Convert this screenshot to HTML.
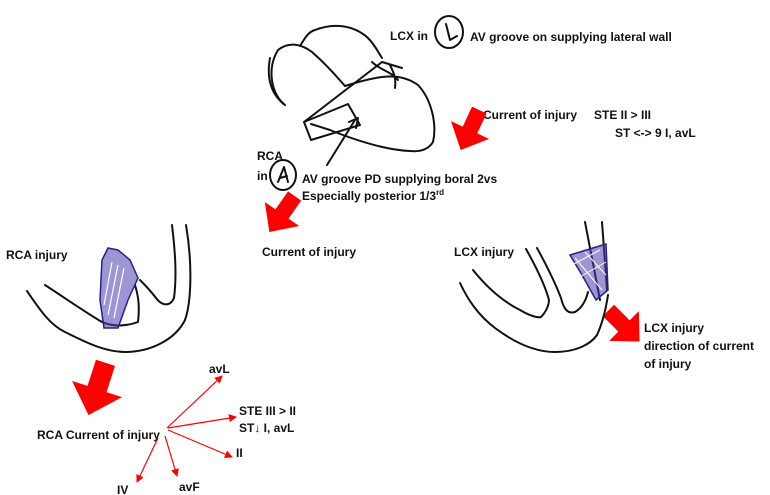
<!DOCTYPE html>
<html><head><meta charset="utf-8"><style>
html,body{margin:0;padding:0;background:#fff;}
svg{display:block;}
text{font-family:"Liberation Sans",sans-serif;font-weight:bold;font-size:12px;fill:#111;}
.k{fill:none;stroke:#111;stroke-width:2;stroke-linecap:round;stroke-linejoin:round;}
.b{fill:#4a3fb0;fill-opacity:.55;stroke:#2a1f8a;stroke-width:1.5;}
.r{stroke:#f00;stroke-width:1.2;fill:none;}
</style></head><body>
<svg width="770" height="495" viewBox="0 0 770 495" xmlns="http://www.w3.org/2000/svg">
<defs>
<marker id="ah" markerWidth="8" markerHeight="8" refX="7" refY="4" orient="auto" markerUnits="userSpaceOnUse"><path d="M0,0 L8,4 L0,8 z" fill="#f00"/></marker>
<polygon id="ba" points="-8,-22 8,-22 8,0 21,0 0,22 -21,0 -8,0" fill="#f00"/>
</defs>

<!-- top heart sketch -->
<path class="k" d="M285,105 C272,95 266,70 278,50 C288,42 300,43 312,52 C328,66 338,78 345,86"/>
<path class="k" d="M300,46 C305,38 308,32 315,30 C335,22 355,26 368,38 C375,45 378,52 382,58"/>
<path class="k" d="M270,58 C266,80 272,95 285,105"/>
<path class="k" d="M304,122 L382,62 L402,68"/>
<path class="k" d="M345,86 C380,75 400,72 418,85 C432,100 437,125 433,142 C428,150 420,152 410,151 C385,150 355,140 330,130 L311,124"/>
<path class="k" d="M304,122 L348,104 L360,125 L311,140 Z"/>
<path class="k" d="M327,165 L355,120 M349,122 L358,118 L356,128"/>
<path class="k" stroke-width="1.3" d="M372,62 C380,70 392,72 398,80 M390,65 C395,75 396,80 395,88"/>
<!-- circles -->
<ellipse class="k" cx="449" cy="32" rx="14" ry="16"/>
<path class="k" stroke-width="1.5" d="M446,24 L450,40 L457,36"/>
<ellipse class="k" cx="283" cy="175" rx="13" ry="15"/>
<path class="k" stroke-width="1.5" d="M278,182 L284,167 L288,182 M280,178 L287,176"/>

<text x="390" y="40">LCX in</text>
<text x="470" y="41">AV groove on supplying lateral wall</text>
<text x="483" y="119">Current of injury</text>
<text x="594" y="119">STE II &gt; III</text>
<text x="615" y="137">ST &lt;-&gt; 9 I, avL</text>
<text x="257" y="160">RCA</text>
<text x="257" y="180">in</text>
<text x="302" y="183">AV groove PD supplying boral 2vs</text>
<text x="302" y="200">Especially posterior 1/3<tspan font-size="8" dy="-5">rd</tspan></text>
<text x="262" y="256">Current of injury</text>
<text x="6" y="259">RCA injury</text>
<text x="454" y="256">LCX injury</text>
<text x="644" y="332">LCX injury</text>
<text x="644" y="350">direction of current</text>
<text x="644" y="368">of injury</text>
<text x="37" y="439">RCA Current of injury</text>
<text x="209" y="373">avL</text>
<text x="239" y="415">STE III &gt; II</text>
<text x="239" y="432">ST↓ I, avL</text>
<text x="236" y="457">II</text>
<text x="179" y="491">avF</text>
<text x="117" y="494">IV</text>

<!-- red block arrows -->
<use href="#ba" transform="translate(470,130) rotate(25)"/>
<use href="#ba" transform="translate(282,214) rotate(35)"/>
<use href="#ba" transform="translate(97,389) rotate(18) scale(1.25)"/>
<use href="#ba" transform="translate(624,326) rotate(-45)"/>

<!-- red lead lines -->
<line class="r" x1="167" y1="428" x2="222" y2="376" marker-end="url(#ah)"/>
<line class="r" x1="168" y1="428" x2="236" y2="417" marker-end="url(#ah)"/>
<line class="r" x1="168" y1="430" x2="232" y2="457" marker-end="url(#ah)"/>
<line class="r" x1="165" y1="436" x2="177" y2="476" marker-end="url(#ah)"/>
<line class="r" x1="158" y1="438" x2="137" y2="482" marker-end="url(#ah)"/>

<!-- RCA injury sketch -->
<path class="k" d="M27,291 C40,310 50,325 65,332 C85,342 105,352 125,352 C150,352 175,340 185,320 C192,300 192,260 186,225"/>
<path class="k" d="M45,285 C65,298 85,312 102,322 C115,328 130,325 138,322 C140,305 138,295 135,285"/>
<path class="k" d="M172,225 C175,250 177,275 174,298 C170,307 162,306 156,298 C150,290 145,285 140,280"/>
<path class="b" d="M102,260 L108,248 L118,250 L130,260 L138,278 L128,300 L118,328 L104,328 L100,300 Z"/>
<path stroke="#fff" stroke-width="1.2" d="M108,315 L118,265 M114,318 L124,268 M104,305 L112,262"/>

<!-- LCX injury sketch -->
<path class="k" d="M460,283 C468,300 478,315 495,328 C515,343 535,352 555,352 C575,352 590,345 597,335 C603,322 606,308 608,295"/>
<path class="k" d="M473,270 C485,285 500,300 520,310 C530,316 538,318 541,317 C546,312 549,305 549,300 C545,285 535,265 526,249"/>
<path class="k" d="M537,248 C548,268 556,285 561,298 C564,310 568,314 575,312 C582,308 586,300 588,292"/>
<path class="k" d="M585,222 L600,300 M602,222 L607,290"/>
<path class="b" d="M570,255 L606,244 L608,290 L596,300 L582,275 Z"/>
<path stroke="#fff" stroke-width="1" d="M575,258 L602,290 M585,252 L606,275 M572,265 L600,250 M578,278 L606,262"/>
</svg>
</body></html>
